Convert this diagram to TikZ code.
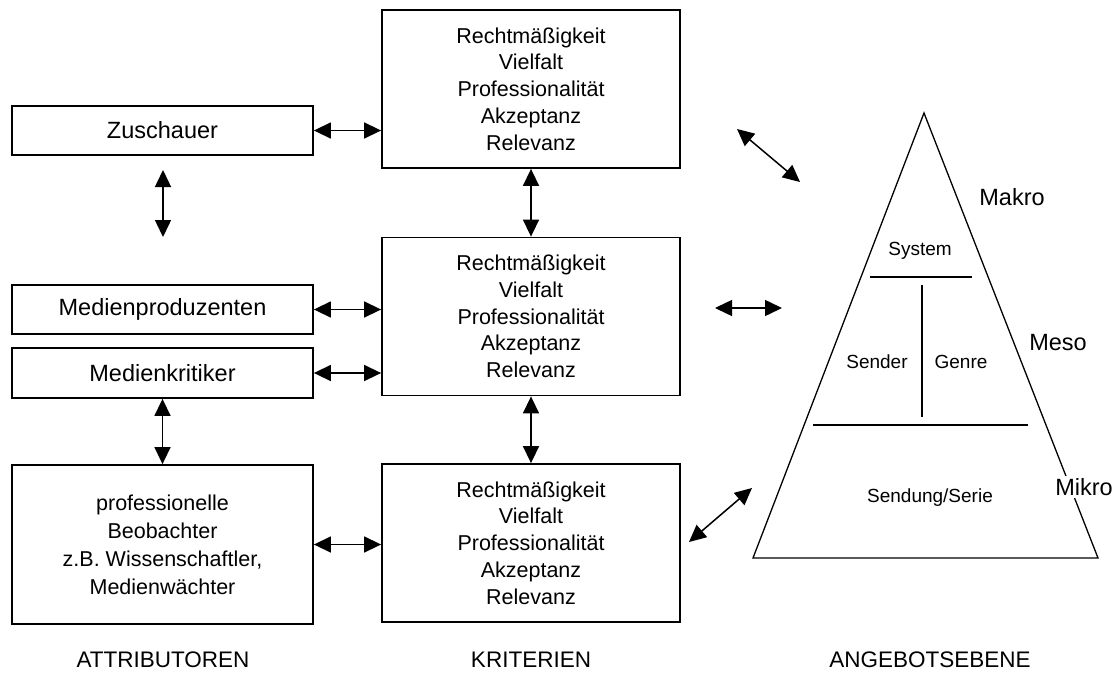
\documentclass[tikz,border=0pt]{standalone}
\usepackage{fontspec}
\setmainfont{Liberation Sans}
\usetikzlibrary{arrows.meta}
\begin{document}
\begin{tikzpicture}[x=1pt,y=-1pt,
  box/.style={draw,line width=1.8pt,inner sep=0pt,align=center},
  lbox/.style={box,minimum width=301pt},
  kbox/.style={box,minimum width=298pt,minimum height=158pt,font=\fontsize{21.5}{26.7}\selectfont},
  dbl/.style={line width=1.5pt,{Triangle[length=17pt,width=16pt]}-{Triangle[length=17pt,width=16pt]}},
  big/.style={font=\fontsize{23.5}{27}\selectfont},
  small/.style={font=\fontsize{19}{23}\selectfont},
  captext/.style={font=\fontsize{22.5}{27}\selectfont}]
\useasboundingbox (0,0) rectangle (1116,672);
% left column
\node[lbox,minimum height=49pt,big] (zus) at (162.5,130.5) {Zuschauer};
\node[lbox,minimum height=49pt,big] (mprod) at (162.5,309.5) {Medienproduzenten};
\node[lbox,minimum height=50pt,big] (mkrit) at (162.5,373) {Medienkritiker};
\node[lbox,minimum height=159pt,font=\fontsize{21.5}{28}\selectfont] (prof) at (162.5,544.5) {professionelle\\Beobachter\\z.B. Wissenschaftler,\\Medienwächter};
% middle column
\node[kbox] (k1) at (531,89) {Rechtmäßigkeit\\Vielfalt\\Professionalität\\Akzeptanz\\Relevanz};
\node[kbox] (k2) at (531,316.5) {Rechtmäßigkeit\\Vielfalt\\Professionalität\\Akzeptanz\\Relevanz};
\node[kbox] (k3) at (531,543) {Rechtmäßigkeit\\Vielfalt\\Professionalität\\Akzeptanz\\Relevanz};
% captions
\node[captext] (c1) at (163,660) {ATTRIBUTOREN};
\node[captext] (c2) at (531,660) {KRITERIEN};
\node[captext] (c3) at (930,660) {ANGEBOTSEBENE};
% arrows left-middle
\draw[dbl] (zus.east) -- (zus.east -| k1.west);
\draw[dbl] (mprod.east) -- (mprod.east -| k2.west);
\draw[dbl] (mkrit.east) -- (mkrit.east -| k2.west);
\draw[dbl] (prof.east) -- (prof.east -| k3.west);
\draw[dbl] (mkrit.south) -- (prof.north);
\draw[dbl] (k1.south) -- (k2.north);
\draw[dbl] (k2.south) -- (k3.north);
\coordinate (za) at (163,170);
\coordinate (zb) at (163,237);
\draw[dbl] (za) -- (zb);
% arrows to triangle
\coordinate (r1a) at (737,129);
\coordinate (r1b) at (800,182);
\coordinate (r2a) at (715,308);
\coordinate (r2b) at (782,308);
\coordinate (r3a) at (689,542);
\coordinate (r3b) at (752,488);
\draw[dbl] (r1a) -- (r1b);
\draw[dbl] (r2a) -- (r2b);
\draw[dbl] (r3a) -- (r3b);
% triangle
\coordinate (apex) at (924,113);
\coordinate (bl) at (753,558);
\coordinate (br) at (1098,558);
\draw[line width=1.3pt,line join=miter] (br) -- (apex) -- (bl) -- cycle;
\draw[line width=1.3pt] (870,277) -- (972,277);
\draw[line width=1.1pt] (922,285) -- (922,417);
\draw[line width=1.3pt] (813,425) -- (1028,425);
\node[small] (sys) at (920,251) {System};
\node[small] (send) at (877,362) {Sender};
\node[small] (gen) at (961,362) {Genre};
\node[small] (ser) at (930,498) {Sendung/Serie};
\node[big] (makro) at (1012,197) {Makro};
\node[big] (meso) at (1058,343) {Meso};
\node[big,fill=white,inner sep=2pt] (mikro) at (1084,487) {Mikro};
\end{tikzpicture}
\end{document}
